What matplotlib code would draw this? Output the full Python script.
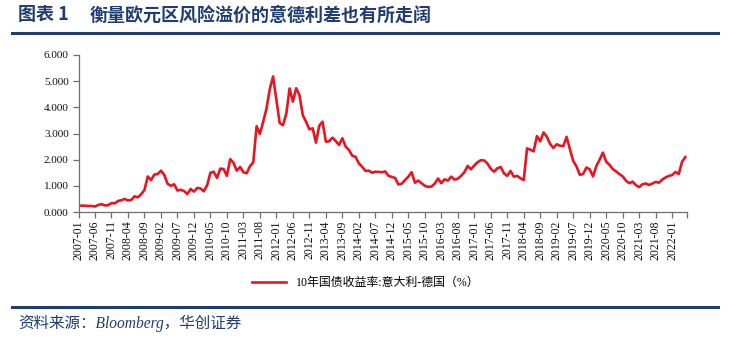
import matplotlib
matplotlib.use("Agg")
import matplotlib.pyplot as plt
from matplotlib.lines import Line2D
from matplotlib.ticker import FormatStrFormatter
import numpy as np
import pandas as pd

# 月度数据 2007-01 .. 2022-05，10年国债收益率 意大利-德国 (%)
months = pd.date_range("2007-01-01", periods=185, freq="MS").strftime("%Y-%m").tolist()
spread = [
    0.25, 0.24, 0.24, 0.23, 0.23, 0.21, 0.27, 0.30, 0.25, 0.26,
    0.34, 0.33, 0.42, 0.45, 0.50, 0.44, 0.46, 0.60, 0.56, 0.68,
    0.84, 1.36, 1.22, 1.43, 1.45, 1.58, 1.42, 1.08, 1.00, 1.06,
    0.82, 0.85, 0.80, 0.69, 0.88, 0.78, 0.92, 0.90, 0.79, 1.02,
    1.50, 1.54, 1.30, 1.66, 1.64, 1.38, 2.02, 1.88, 1.58, 1.72,
    1.52, 1.48, 1.75, 1.90, 3.28, 2.98, 3.45, 3.95, 4.70, 5.18,
    4.30, 3.40, 3.32, 3.75, 4.72, 4.22, 4.73, 4.47, 3.70, 3.45,
    3.16, 3.20, 2.65, 3.30, 3.45, 2.69, 2.70, 2.84, 2.71, 2.56,
    2.82, 2.50, 2.37, 2.15, 2.11, 1.86, 1.73, 1.57, 1.58, 1.50,
    1.54, 1.53, 1.52, 1.55, 1.38, 1.34, 1.30, 1.05, 1.08, 1.22,
    1.35, 1.52, 1.12, 1.20, 1.10, 1.00, 0.96, 0.97, 1.08, 1.28,
    1.10, 1.25, 1.20, 1.35, 1.24, 1.27, 1.38, 1.52, 1.76, 1.63,
    1.78, 1.90, 1.98, 1.97, 1.85, 1.65, 1.54, 1.67, 1.72, 1.48,
    1.38, 1.57, 1.35, 1.38, 1.29, 1.22, 2.43, 2.38, 2.32, 2.90,
    2.70, 3.04, 2.88, 2.60, 2.45, 2.59, 2.53, 2.52, 2.87, 2.40,
    1.95, 1.74, 1.42, 1.45, 1.70, 1.63, 1.36, 1.75, 2.00, 2.27,
    1.92, 1.80, 1.64, 1.55, 1.45, 1.36, 1.20, 1.10, 1.16, 1.03,
    0.95, 1.06, 1.09, 1.03, 1.09, 1.15, 1.12, 1.24, 1.32, 1.38,
    1.41, 1.53, 1.45, 1.92, 2.10,
]
series_name = "10年国债收益率:意大利-德国（%）"
fig_no = "图表 1"
title = "衡量欧元区风险溢价的意德利差也有所走阔"
source = "资料来源：Bloomberg，华创证券"

navy = "#1f3d73"
red = "#e8141f"
axis_col = "#6e6e6e"

plt.rcParams['font.family'] = ['Liberation Serif', 'Noto Sans CJK SC']

W, H = 736, 345
fig = plt.figure(figsize=(W / 100, H / 100), dpi=100)
ax = fig.add_axes([78.5 / W, 1 - 212 / H, (687 - 78.5) / W, (212 - 55) / H])

x = np.arange(len(spread))
ax.plot(x, spread, color=red, lw=1.9, label=series_name, solid_joinstyle='round')

ax.set_xlim(0, len(spread) - 0.5)
ax.set_ylim(0, 6)
ax.set_yticks(np.arange(0, 7, 1))
ax.yaxis.set_major_formatter(FormatStrFormatter('%.3f'))
tick_pos = list(range(0, len(spread), 5))
ax.set_xticks(tick_pos)
ax.set_xticklabels([months[i] for i in tick_pos], rotation=90)
ax.set_xticks([len(spread) - 0.5], minor=True)

for s in ['top', 'right']:
    ax.spines[s].set_visible(False)
for s in ['left', 'bottom']:
    ax.spines[s].set_color(axis_col)
    ax.spines[s].set_linewidth(0.9)
ax.tick_params(axis='both', which='both', color=axis_col, width=0.9, length=4,
               direction='out', labelcolor='#111111')
ax.tick_params(axis='x', labelsize=8.5, pad=2)
ax.tick_params(axis='y', labelsize=8, pad=3)

fig.legend(loc='center', bbox_to_anchor=(0.497, 1 - 283 / H), frameon=False,
           handlelength=2.8, prop={'size': 8.6})

# 标题与分隔线
fig.text(18 / W, 1 - 15 / H, fig_no, fontsize=13, fontweight='bold', color=navy,
         ha='left', va='center', family=['Noto Sans CJK SC'])
fig.text(90 / W, 1 - 15 / H, title, fontsize=13, fontweight='bold', color=navy,
         ha='left', va='center', family=['Noto Sans CJK SC'])
fig.add_artist(Line2D([12 / W, 718 / W], [1 - 33 / H] * 2, transform=fig.transFigure,
                      color=navy, lw=2.2))
fig.add_artist(Line2D([12 / W, 718 / W], [1 - 307 / H] * 2, transform=fig.transFigure,
                      color=navy, lw=2.2))
fig.text(18 / W, 1 - 323 / H, source, fontsize=11.2, style='italic', color=navy,
         ha='left', va='center')

fig.savefig("out.png", dpi=100)
